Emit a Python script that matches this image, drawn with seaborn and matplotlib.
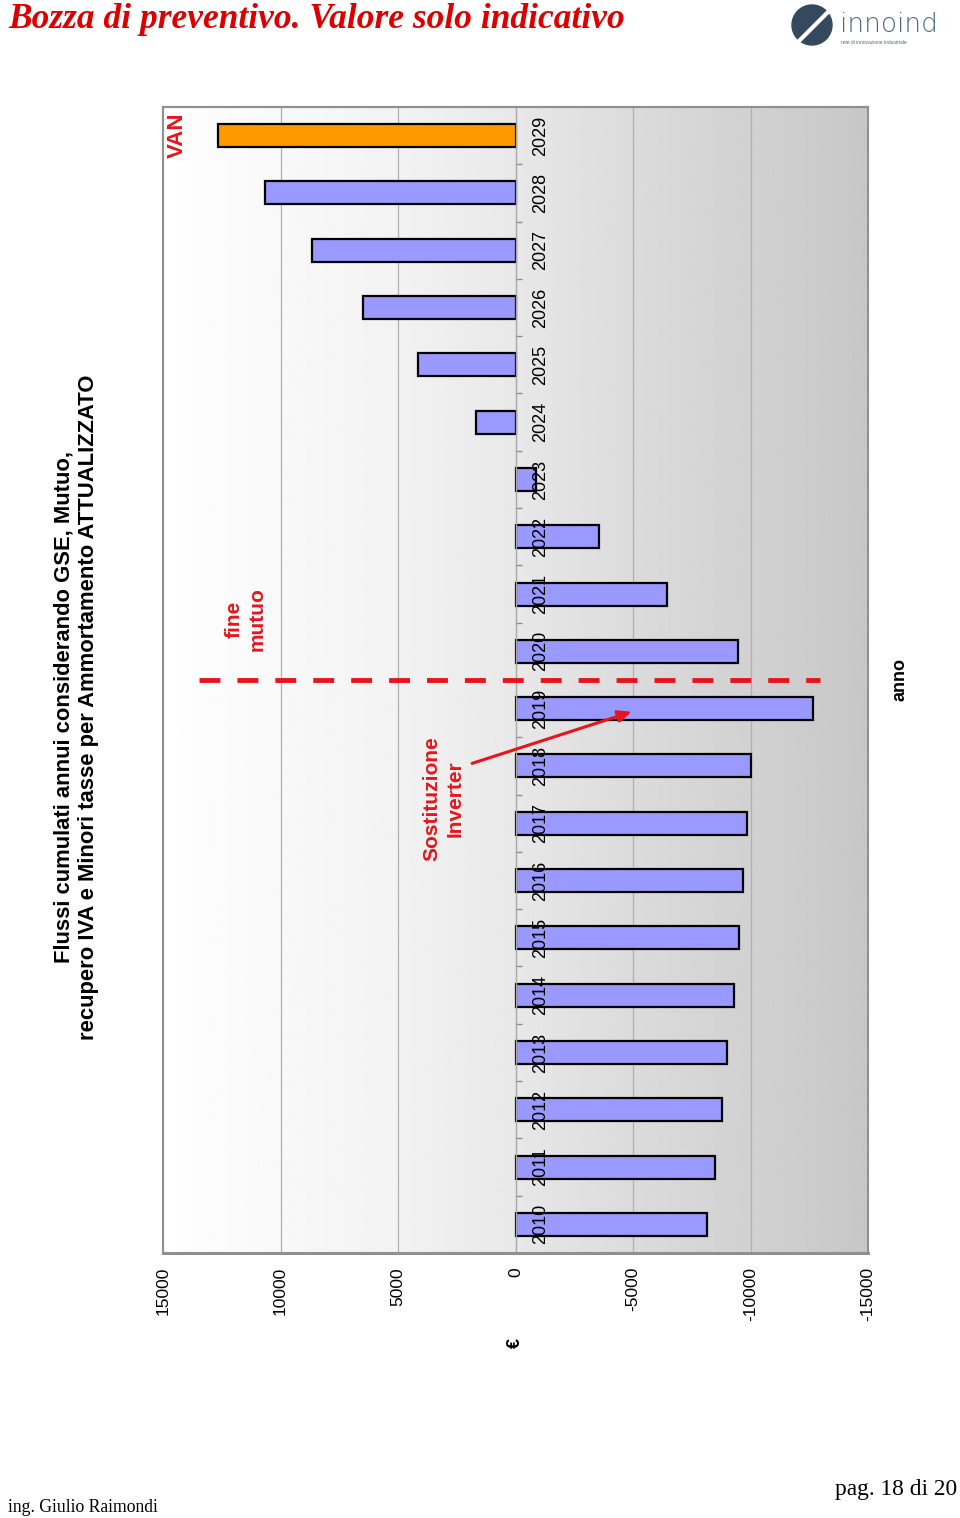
import numpy as np
import pandas as pd
import matplotlib
matplotlib.use("Agg")
import matplotlib.pyplot as plt
import seaborn as sns
from matplotlib.patches import Rectangle, Circle

sns.set_style("white")
plt.rcParams['font.family'] = ['Liberation Sans', 'DejaVu Sans']
plt.rcParams['text.color'] = 'black'

# data (cumulated discounted cash flows, EUR)
years = ['2010', '2011', '2012', '2013', '2014', '2015', '2016', '2017', '2018', '2019',
         '2020', '2021', '2022', '2023', '2024', '2025', '2026', '2027', '2028', '2029']
flows = [-8170, -8470, -8770, -9020, -9280, -9490, -9700, -9870, -10040, -12640,
         -9450, -6430, -3570, -890, 1700, 4170, 6470, 8640, 10680, 12640]
value_ticks = [15000, 10000, 5000, 0, -5000, -10000, -15000]
value_labels = ['15000', '10000', '5000', '0', '-5000', '-10000', '-15000']

title = ("Flussi cumulati annui considerando GSE, Mutuo,\n"
         "recupero IVA e Minori tasse per Ammortamento ATTUALIZZATO")

bar_col = '#9999ff'
van_col = '#ff9900'
red = '#e8141b'

df = pd.DataFrame({'anno': years, 'valore': flows})
palette = {y: bar_col for y in years}
palette[years[-1]] = van_col

fig = plt.figure(figsize=(9.6, 15.18), dpi=100)
ax = fig.add_axes([163 / 960, 1 - 1253 / 1518, 705 / 960, 1146 / 1518])

# gradient background (white on the positive side, grey on the negative side)
px = np.linspace(163, 868, 400)
shade = np.interp(px, [163, 200, 398, 516, 633, 751, 868],
                  [1.0, 0.99, 0.95, 0.91, 0.86, 0.82, 0.78])
ax.imshow(shade[None, :], extent=(15000, -15000, -0.5, 19.5), aspect='auto',
          cmap='gray', vmin=0, vmax=1, zorder=0)

# grid lines under the bars
for v in value_ticks[1:-1]:
    if v != 0:
        ax.axvline(v, color='#b0b0b0', lw=0.9, zorder=1)

sns.barplot(data=df, x='valore', y='anno', hue='anno', palette=palette, legend=False,
            orient='h', width=0.4, edgecolor='black', linewidth=1.6, saturation=1,
            ax=ax, zorder=2)

ax.set_xlim(15000, -15000)
ax.set_ylim(-0.5, 19.5)
ax.set_xlabel('')
ax.set_ylabel('')
ax.set_axisbelow(False)

# value axis (bottom)
ax.set_xticks(value_ticks)
ax.set_xticklabels(value_labels, rotation=90, fontsize=12.5)
ax.tick_params(axis='x', length=5, width=1.2, color='#808080', pad=5, labelcolor='black')

# category axis crossing at zero, labels drawn over the bars
ax.yaxis.tick_right()
ax.spines['right'].set_position(('data', 0))
ax.spines['right'].set_color('#a8a8a8')
ax.spines['right'].set_linewidth(1.0)
ax.set_yticks(np.arange(0.5, 19, 1), minor=True)
ax.tick_params(axis='y', which='major', length=0, pad=12, labelsize=13,
               labelrotation=90, labelcolor='black')
ax.tick_params(axis='y', which='minor', length=4, width=1, color='#909090', direction='out')
for lab in ax.get_yticklabels():
    lab.set_va('center')

for s in ['left', 'top']:
    ax.spines[s].set_color('#909090')
    ax.spines[s].set_linewidth(1.5)
ax.spines['bottom'].set_color('#808080')
ax.spines['bottom'].set_linewidth(2)
ax.add_patch(Rectangle((0, 0), 1, 1, transform=ax.transAxes, fill=False,
                       edgecolor='#909090', lw=1.5, clip_on=False, zorder=3))

# annotations
ax.plot([13450, -12940], [9.5, 9.5], color=red, lw=3.5,
        linestyle=(0, (4.3, 3.5)), zorder=4, solid_capstyle='butt')
ax.text(14400, 19, 'VAN', color=red, fontsize=16, fontweight='bold',
        rotation=90, ha='center', va='center')
ax.text(11490, 10.0, 'fine\nmutuo', color=red, fontsize=15, fontweight='bold',
        rotation=90, ha='center', va='bottom', linespacing=1.3)
ax.text(3064, 6.34, 'Sostituzione\nInverter', color=red, fontsize=15, fontweight='bold',
        rotation=90, ha='center', va='bottom', linespacing=1.3)
ax.annotate('', xy=(-5060, 8.96), xytext=(1960, 8.03),
            arrowprops=dict(arrowstyle='-|>,head_length=0.8,head_width=0.35',
                            color=red, lw=2.2), zorder=5)

ax.text(0, -0.0785, '€', transform=ax.get_xaxis_transform(), rotation=90,
        fontsize=13, fontweight='bold', ha='center', va='center')
fig.text(900 / 960, 1 - 680 / 1518, 'anno', rotation=90, fontsize=13,
         fontweight='bold', ha='center', va='center')
fig.text(76 / 960, 1 - 707 / 1518, title, rotation=90, fontsize=15.8,
         fontweight='bold', ha='center', va='center', multialignment='center',
         linespacing=1.2)

# page header / footer
fig.text(8 / 960, 1 - 20 / 1518, 'Bozza di preventivo. Valore solo indicativo',
         family='Liberation Serif', fontsize=25.5, fontweight='bold', style='italic',
         color='#dd0000', ha='left', va='center')
fig.add_artist(Circle((8.12, 15.18 - 0.25), 0.2, transform=fig.dpi_scale_trans,
                      color='#34495e'))
fig.add_artist(plt.Line2D([7.98, 8.3], [15.18 - 0.42, 15.18 - 0.1],
                          transform=fig.dpi_scale_trans, color='white', lw=3))
fig.text(840 / 960, 1 - 24 / 1518, 'innoind', fontsize=19, color='#4a6a80',
         family='DejaVu Sans', fontweight='light', ha='left', va='center')
fig.text(841 / 960, 1 - 42 / 1518, 'rete di innovazione industriale', fontsize=3.5,
         color='#4a6a80', ha='left', va='center')
fig.text(8 / 960, 1 - 1508 / 1518, 'ing. Giulio Raimondi', family='Liberation Serif',
         fontsize=12.7, ha='left', va='center')
fig.text(957 / 960, 1 - 1490 / 1518, 'pag. 18 di 20', family='Liberation Serif',
         fontsize=16.8, ha='right', va='center')

fig.savefig('out.png', dpi=100)
